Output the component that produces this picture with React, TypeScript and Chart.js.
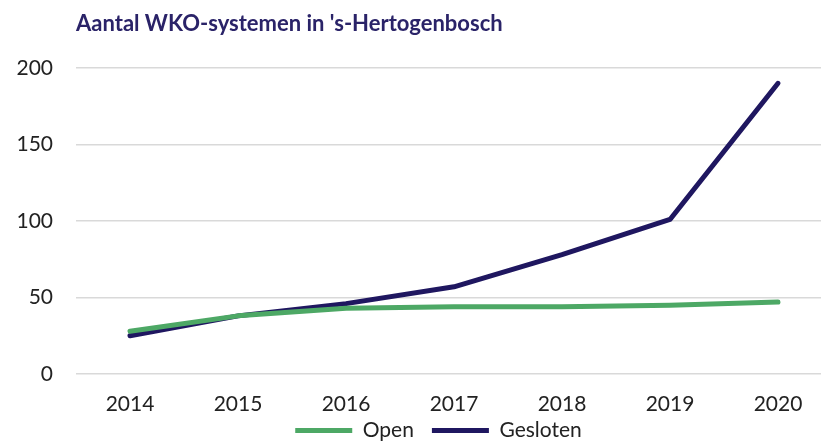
import React, { useEffect, useRef } from "react";
import { Chart, registerables } from "chart.js";

Chart.register(...registerables);

const categories = ["2014", "2015", "2016", "2017", "2018", "2019", "2020"];
const openValues = [28, 38, 43, 44, 44, 45, 47];
const geslotenValues = [25, 38, 46, 57, 78, 101, 190];
const yTicks = [0, 50, 100, 150, 200];

const GREEN = "#4da865";
const NAVY = "#1f1760";
const FONT = "Lato, 'Noto Sans', sans-serif";

// Nudges the legend box into the position used in the reference
const legendShift = {
  id: "legendShift",
  afterLayout(chart: any) {
    const lg = chart.legend;
    if (!lg) return;
    const dx = 17.5;
    const dy = -18;
    lg.left += dx;
    lg.right += dx;
    lg.top += dy;
    lg.bottom += dy;
  },
};

export default function App() {
  const ref = useRef<HTMLCanvasElement | null>(null);

  useEffect(() => {
    document.body.style.margin = "0";
    const canvas = ref.current;
    if (!canvas) return;
    const chart = new Chart(canvas, {
      type: "line",
      data: {
        labels: categories,
        datasets: [
          {
            label: "Open",
            data: openValues,
            borderColor: GREEN,
            backgroundColor: GREEN,
            borderWidth: 5,
            borderCapStyle: "round",
            borderJoinStyle: "round",
            pointRadius: 0,
            pointStyle: "line",
            tension: 0,
          },
          {
            label: "Gesloten",
            data: geslotenValues,
            borderColor: NAVY,
            backgroundColor: NAVY,
            borderWidth: 5,
            borderCapStyle: "round",
            borderJoinStyle: "round",
            pointRadius: 0,
            pointStyle: "line",
            tension: 0,
          },
        ],
      },
      plugins: [legendShift],
      options: {
        animation: false,
        responsive: false,
        maintainAspectRatio: false,
        layout: { padding: { left: 10, right: 0, top: 0, bottom: 0 } },
        plugins: {
          title: {
            display: true,
            text: "Aantal WKO-systemen in 's-Hertogenbosch",
            align: "start",
            fullSize: false,
            color: "#2a2368",
            font: { family: FONT, size: 22, weight: "bold" },
            padding: { top: 11, bottom: 30.6 },
          },
          legend: {
            position: "bottom",
            labels: {
              usePointStyle: true,
              pointStyleWidth: 57,
              boxHeight: 10,
              padding: 18,
              color: "#222",
              font: { family: FONT, size: 21 },
            },
          },
          tooltip: { enabled: false },
        },
        scales: {
          x: {
            type: "category",
            offset: true,
            grid: { display: false, drawTicks: false },
            border: { display: false },
            ticks: {
              color: "#222",
              font: { family: FONT, size: 21 },
              padding: 18,
              maxRotation: 0,
            },
            afterFit: (scale: any) => {
              scale.height = 46;
            },
          },
          y: {
            min: 0,
            max: 200,
            grid: { color: "#d9d9d9", lineWidth: 1.5, drawTicks: false },
            border: { display: false },
            afterBuildTicks: (scale: any) => {
              scale.ticks = yTicks.map((v) => ({ value: v }));
            },
            ticks: {
              color: "#222",
              font: { family: FONT, size: 21 },
              padding: 23,
            },
            afterFit: (scale: any) => {
              scale.width = 66;
            },
          },
        },
      },
    });
    return () => chart.destroy();
  }, []);

  return (
    <div style={{ width: 821, height: 443, overflow: "hidden", position: "relative", background: "#fff" }}>
      <canvas ref={ref} width={832} height={469} style={{ display: "block" }} />
    </div>
  );
}
